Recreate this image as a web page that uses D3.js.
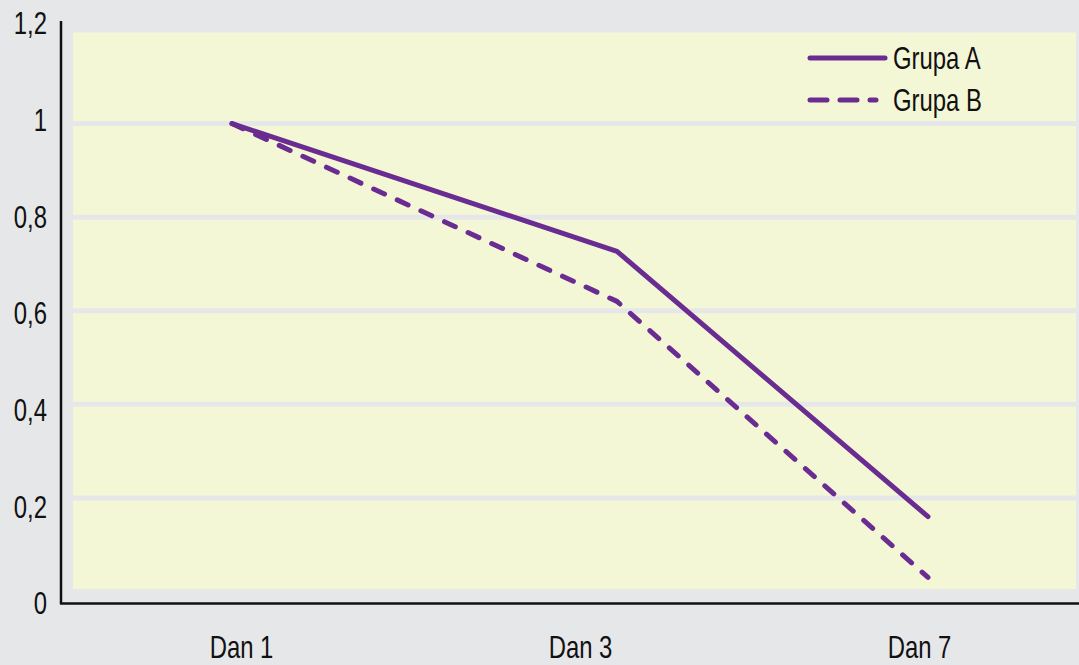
<!DOCTYPE html>
<html>
<head>
<meta charset="utf-8">
<script src="https://cdn.jsdelivr.net/npm/d3@7"></script>
<style>
  body { margin: 0; background: #e6e7e9; }
  svg text { font-family: "Liberation Sans", Arial, sans-serif; fill: #111; }
</style>
</head>
<body>
<div id="chart"></div>
<script>
// podaci
const dani = ["Dan 1", "Dan 3", "Dan 7"];
const grupaA = [1, 0.727, 0.16];
const grupaB = [1, 0.62, 0.03];
const yTicks = [0, 0.2, 0.4, 0.6, 0.8, 1, 1.2];
const serije = [
  { naziv: "Grupa A", vrijednosti: grupaA, dash: null },
  { naziv: "Grupa B", vrijednosti: grupaB, dash: "12,14" },
];

const width = 1079, height = 665;
const ljubicasta = "#6a2c91";
const pozadina = "#e6e7e9";
const uzak = "scale(0.77,1)"; // sazeti font

const svg = d3.select("#chart").append("svg")
  .attr("width", width).attr("height", height);

svg.append("rect").attr("width", width).attr("height", height).attr("fill", pozadina);

// skale
const y = d3.scaleLinear().domain([0, 1.2]).range([591.5, 30]);
const yLabel = d3.scaleLinear().domain([0, 1.2]).range([603, 23]);
const xData = d3.scaleLinear().domain([0, 1, 2]).range([232, 617, 928]);
const xLabel = d3.scalePoint().domain(dani).range([241, 919]);

// podrucje grafa
svg.append("rect")
  .attr("x", 73).attr("y", y(1.2))
  .attr("width", 1076 - 73).attr("height", y(0) - y(1.2))
  .attr("fill", "#f4f7d6");

svg.selectAll(".grid").data(yTicks).enter().append("line")
  .attr("x1", 73).attr("x2", 1076)
  .attr("y1", d => y(d)).attr("y2", d => y(d))
  .attr("stroke", pozadina).attr("stroke-width", 5);

// osi
svg.append("line").attr("x1", 61).attr("x2", 61).attr("y1", 21).attr("y2", 604)
  .attr("stroke", "#111").attr("stroke-width", 2.5);
svg.append("line").attr("x1", 60).attr("x2", width).attr("y1", 603.5).attr("y2", 603.5)
  .attr("stroke", "#111").attr("stroke-width", 2.7);

const yAxis = svg.append("g").attr("transform", "translate(47,0)")
  .call(d3.axisLeft(yLabel).tickValues(yTicks).tickSize(0).tickPadding(0)
    .tickFormat(d => String(d3.format(".1~f")(d)).replace(".", ",")));
yAxis.select(".domain").remove();
yAxis.selectAll("text").style("font-size", "31px").attr("dy", "0.35em")
  .style("font-family", "\"Liberation Sans\", sans-serif").attr("fill", "#111")
  .attr("transform", uzak);

const xAxis = svg.append("g").attr("transform", "translate(0,647)")
  .call(d3.axisBottom(xLabel).tickSize(0).tickPadding(0));
xAxis.select(".domain").remove();
xAxis.selectAll("text").style("font-size", "31px").attr("dy", "0.35em")
  .style("font-family", "\"Liberation Sans\", sans-serif").attr("fill", "#111")
  .attr("transform", uzak);

// linije
const linija = d3.line().x((d, i) => xData(i)).y(d => y(d));

serije.forEach(s => {
  svg.append("path")
    .datum(s.vrijednosti)
    .attr("d", linija)
    .attr("fill", "none")
    .attr("stroke", ljubicasta)
    .attr("stroke-width", 5)
    .attr("stroke-linecap", "round")
    .attr("stroke-linejoin", "round")
    .attr("stroke-dasharray", s.dash);
});

// legenda
const legenda = svg.append("g");
serije.forEach((s, i) => {
  const ly = 58 + i * 42;
  legenda.append("line")
    .attr("x1", 810).attr("x2", i === 0 ? 885 : 876)
    .attr("y1", ly).attr("y2", ly)
    .attr("stroke", ljubicasta).attr("stroke-width", 5)
    .attr("stroke-linecap", "round")
    .attr("stroke-dasharray", s.dash ? "17,13" : null);
  legenda.append("g").attr("transform", `translate(893,${ly})`)
    .append("text")
    .attr("dy", "0.35em")
    .attr("transform", uzak)
    .style("font-size", "31px")
    .text(s.naziv);
});
</script>
</body>
</html>
